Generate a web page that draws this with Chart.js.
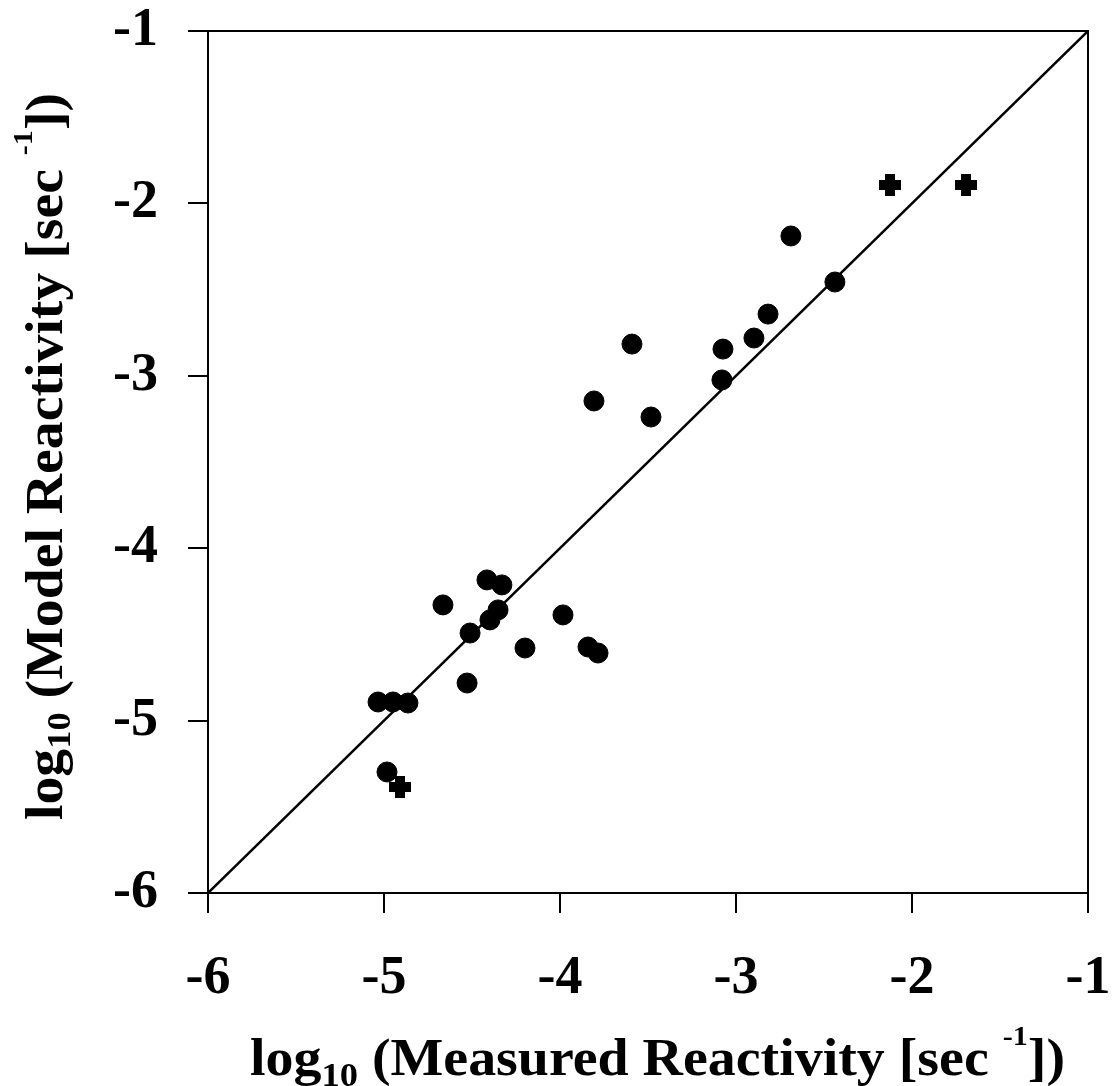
<!DOCTYPE html>
<html><head><meta charset="utf-8">
<style>html,body{margin:0;padding:0;background:#fff}#wrap{width:1112px;height:1086px;position:relative}canvas{display:block}</style>
<script src="https://cdn.jsdelivr.net/npm/chart.js@4"></script>
</head><body><div id="wrap"><canvas id="c" width="1112" height="1086"></canvas></div>
<script>
// log10 measured reactivity (x) and log10 model reactivity (y)
const measuredCircles = [-2.688, -2.438, -2.818, -2.898, -3.074, -3.080, -3.591, -3.807, -3.483,
  -4.415, -4.330, -4.665, -4.352, -4.398, -4.511, -3.983, -4.199, -3.841, -3.784, -4.528,
  -5.034, -4.949, -4.864, -4.983];
const modelCircles = [-2.189, -2.456, -2.642, -2.781, -2.845, -3.024, -2.816, -3.146, -3.239,
  -4.184, -4.213, -4.329, -4.358, -4.416, -4.492, -4.387, -4.579, -4.573, -4.608, -4.782,
  -4.892, -4.892, -4.898, -5.298];
const measuredCrosses = [-2.125, -1.693, -4.909];
const modelCrosses = [-1.893, -1.893, -5.385];
const parityLine = [-6, -1];
const axisMin = -6, axisMax = -1;

const FONT = "'Liberation Serif', 'Times New Roman', serif";

function toPoints(xs, ys){ return xs.map((x,i)=>({x:x, y:ys[i]})); }

function drawRich(ctx, parts, targetWidth){
  let total = 0;
  parts.forEach(p => { ctx.font = 'bold ' + p.size + 'px ' + FONT; p.w = ctx.measureText(p.t).width; total += p.w; });
  const sx = targetWidth / total;
  ctx.save();
  ctx.scale(sx, 1);
  let x = 0;
  parts.forEach(p => {
    ctx.font = 'bold ' + p.size + 'px ' + FONT;
    ctx.fillText(p.t, x, p.dy || 0);
    x += p.w;
  });
  ctx.restore();
}

const framePlugin = {
  id: 'frame',
  afterDraw(chart){
    const ctx = chart.ctx, a = chart.chartArea;
    ctx.save();
    ctx.strokeStyle = '#000'; ctx.lineWidth = 2;
    ctx.beginPath();
    ctx.moveTo(a.left, a.top); ctx.lineTo(a.right, a.top); ctx.lineTo(a.right, a.bottom);
    ctx.stroke();
    ctx.fillStyle = '#000';
    ctx.textBaseline = 'alphabetic';
    ctx.textAlign = 'left';
    // x-axis title
    ctx.save();
    ctx.translate(250, 1075);
    drawRich(ctx, [
      {t:'log', size:52},
      {t:'10', size:34, dy:11},
      {t:' (Measured Reactivity [sec ', size:52},
      {t:'-1', size:28, dy:-30},
      {t:'])', size:52}
    ], 815);
    ctx.restore();
    // y-axis title
    ctx.save();
    ctx.translate(62, 820);
    ctx.rotate(-Math.PI/2);
    drawRich(ctx, [
      {t:'log', size:52},
      {t:'10', size:34, dy:8},
      {t:' (Model Reactivity [sec ', size:52},
      {t:'-1', size:28, dy:-30},
      {t:'])', size:52}
    ], 727);
    ctx.restore();
    ctx.restore();
  }
};

const tickFont = {family: FONT, size: 54, weight: 'bold'};
function zeroPad(s){ s.paddingTop = 0; s.paddingBottom = 0; s.paddingLeft = 0; s.paddingRight = 0; }

new Chart(document.getElementById('c'), {
  type: 'scatter',
  data: {
    datasets: [
      {
        type: 'line',
        data: toPoints(parityLine, parityLine),
        borderColor: '#000', borderWidth: 2.5, pointRadius: 0, fill: false, order: 3
      },
      {
        data: toPoints(measuredCircles, modelCircles),
        pointStyle: 'circle', pointRadius: 10, backgroundColor: '#000', borderColor: '#000', borderWidth: 1, order: 1
      },
      {
        data: toPoints(measuredCrosses, modelCrosses),
        pointStyle: 'cross', pointRadius: 11, backgroundColor: '#000', borderColor: '#000', borderWidth: 10, order: 2
      }
    ]
  },
  options: {
    responsive: false, animation: false, devicePixelRatio: 1,
    layout: {padding: {left: 0, top: 31, right: 24, bottom: 0}},
    plugins: {legend: {display: false}, tooltip: {enabled: false}},
    scales: {
      x: {
        type: 'linear', min: axisMin, max: axisMax,
        afterFit(s){ s.height = 193; zeroPad(s); },
        ticks: {stepSize: 1, autoSkip: false, color: '#000', font: tickFont, padding: 34, maxRotation: 0,
          callback: v => String(v)},
        grid: {display: true, drawOnChartArea: false, drawTicks: true, tickLength: 20, color: '#000', lineWidth: 2},
        border: {display: true, color: '#000', width: 2}
      },
      y: {
        type: 'linear', min: axisMin, max: axisMax,
        afterFit(s){ s.width = 208; zeroPad(s); },
        ticks: {stepSize: 1, autoSkip: false, color: '#000', font: tickFont, padding: 30,
          callback: v => String(v)},
        grid: {display: true, drawOnChartArea: false, drawTicks: true, tickLength: 20, color: '#000', lineWidth: 2},
        border: {display: true, color: '#000', width: 2}
      }
    }
  },
  plugins: [framePlugin]
});
</script>
</body></html>
